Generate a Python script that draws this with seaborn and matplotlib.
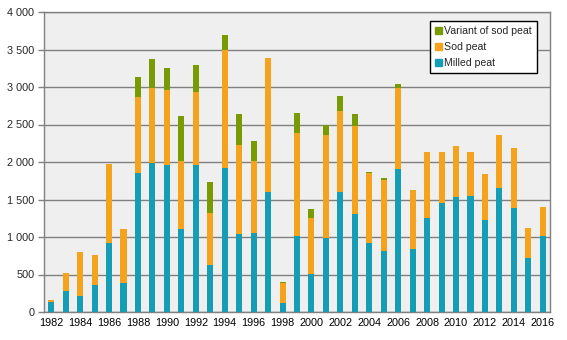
import numpy as np
import pandas as pd
import matplotlib
matplotlib.use("Agg")
import matplotlib.pyplot as plt
from matplotlib.patches import Patch
from matplotlib.ticker import FuncFormatter
import seaborn as sns

years = list(range(1982, 2017))
milled = [129, 284, 209, 364, 924, 391, 1858, 1982, 1956, 1102, 1964,
          631, 1924, 1044, 1058, 1604, 124, 1018, 511, 991, 1604, 1311,
          924, 818, 1911, 836, 1258, 1458, 1538, 1551, 1231, 1658, 1391,
          724, 1018]
sod = [35, 240, 595, 400, 1054, 720, 1013, 1009, 1008, 916, 974,
       693, 1574, 1187, 960, 1787, 267, 1373, 747, 1373, 1080, 1173,
       934, 946, 1080, 795, 880, 680, 680, 587, 613, 706, 800,
       400, 386]
variant = [0, 0, 0, 0, 0, 0, 267, 387, 294, 600, 360,
           414, 200, 413, 266, 0, 13, 267, 120, 134, 200, 160,
           13, 27, 53, 0, 0, 0, 0, 0, 0, 0, 0,
           0, 0]

df = pd.DataFrame({"year": [str(y) for y in years],
                   "milled": milled, "sod": sod, "variant": variant})
df["sod_top"] = df["milled"] + df["sod"]
df["total"] = df["sod_top"] + df["variant"]

c_milled = "#149db4"
c_sod = "#f5a31c"
c_var = "#7a9a02"

sns.set_style("white")
plt.rcParams["font.family"] = ["Liberation Sans", "DejaVu Sans"]

fig = plt.figure(figsize=(5.67, 3.4), dpi=100)
ax = fig.add_axes([44/567, 1 - 312/340, (550-44)/567, 300/340])
ax.set_facecolor("#efefef")

w = 0.42
sns.barplot(data=df, x="year", y="total", color=c_var, width=w, ax=ax,
            saturation=1, zorder=3)
sns.barplot(data=df, x="year", y="sod_top", color=c_sod, width=w, ax=ax,
            saturation=1, zorder=3)
sns.barplot(data=df, x="year", y="milled", color=c_milled, width=w, ax=ax,
            saturation=1, zorder=3)
for p in ax.patches:
    p.set_linewidth(0)

ax.set_xlim(-0.5, len(years) - 0.5)
ax.set_ylim(0, 4000)
ax.set_yticks(np.arange(0, 4001, 500))
ax.yaxis.set_major_formatter(FuncFormatter(lambda v, _: f"{int(v):,}".replace(",", " ")))
ax.grid(axis="y", color="#808080", linewidth=1, zorder=0)
ax.set_axisbelow(True)

idx = np.arange(0, len(years), 2)
ax.set_xticks(idx)
ax.set_xticklabels([years[i] for i in idx])
ax.set_xticks(np.arange(-0.5, len(years), 1), minor=True)
ax.tick_params(axis="x", which="major", length=0, pad=4, labelsize=7.8, colors="black")
ax.tick_params(axis="x", which="minor", length=4, color="#808080", width=1)
ax.tick_params(axis="y", length=4, color="#808080", width=1, labelsize=7.8, pad=3, left=True)
ax.set_xlabel("")
ax.set_ylabel("")

for s in ["left", "bottom", "right", "top"]:
    ax.spines[s].set_visible(True)
    ax.spines[s].set_color("#808080")
    ax.spines[s].set_linewidth(1)

handles = [Patch(color=c_var, label="Variant of sod peat"),
           Patch(color=c_sod, label="Sod peat"),
           Patch(color=c_milled, label="Milled peat")]
leg = ax.legend(handles=handles, loc="upper right", bbox_to_anchor=(0.974, 0.97),
                borderaxespad=0,
                frameon=True, fancybox=False, edgecolor="black", framealpha=1,
                fontsize=7.6, handlelength=0.6, handleheight=0.6, handletextpad=0.2,
                labelspacing=0.55, borderpad=0.5)
leg.get_frame().set_linewidth(1)

fig.savefig("out.png", dpi=100)
